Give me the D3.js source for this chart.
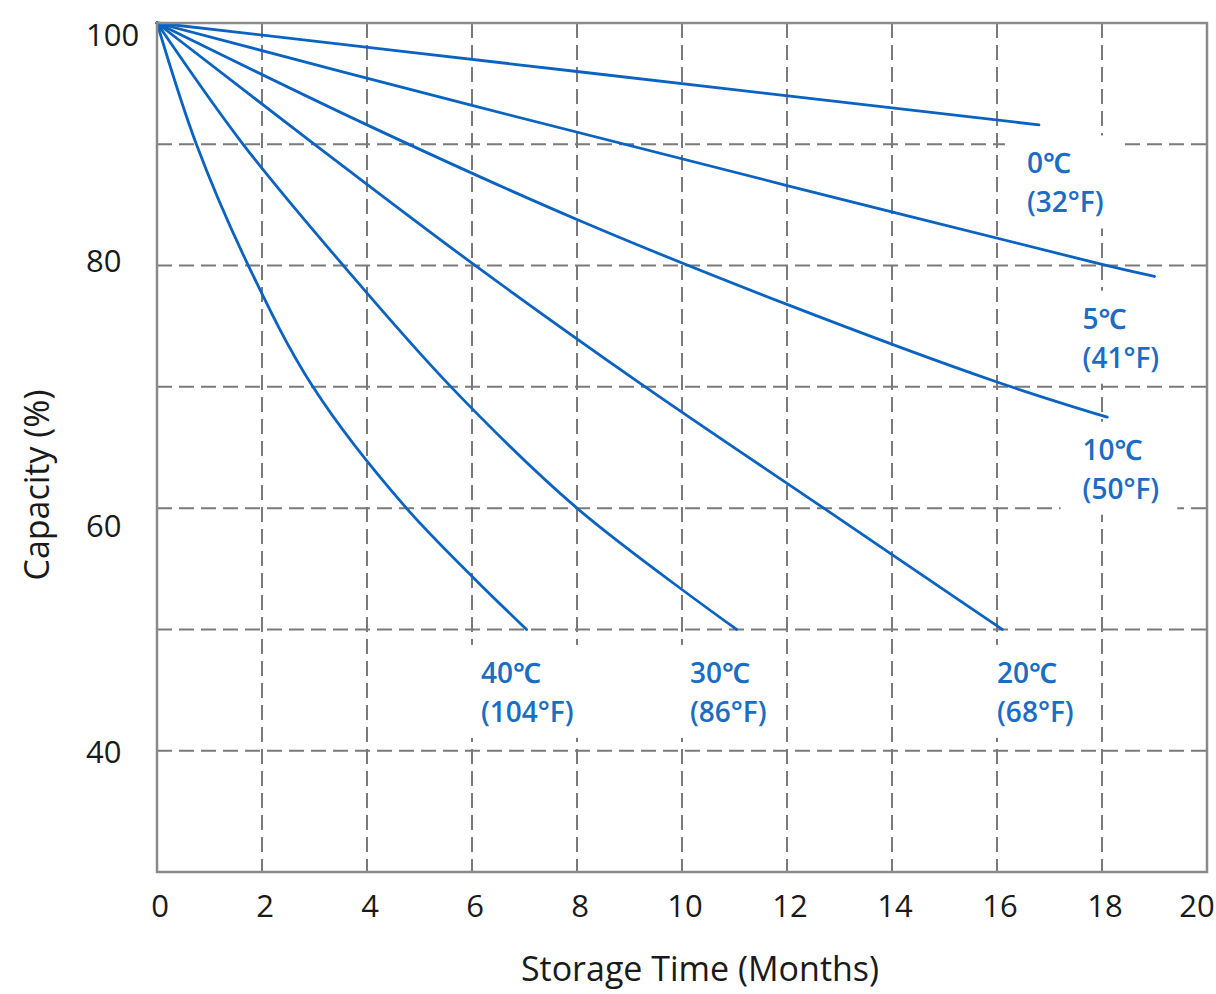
<!DOCTYPE html>
<html>
<head>
<meta charset="utf-8">
<script src="https://cdn.jsdelivr.net/npm/d3@7"></script>
<style>
  html, body { margin: 0; padding: 0; background: #fff; }
  svg { display: block; }
  .tick-label { font-family: "Open Sans", "Noto Sans", sans-serif; font-size: 31px; fill: #1a1a1a; }
  .axis-title { font-family: "Open Sans", "Noto Sans", sans-serif; font-size: 34px; fill: #1a1a1a; }
  .temp-label { font-family: "Open Sans", "Noto Sans", "DejaVu Sans", sans-serif; font-size: 28px; font-weight: 600; fill: #1a6cc4; }
</style>
</head>
<body>
<svg id="chart" width="1216" height="994"></svg>
<script>
// storage time (months) vs remaining capacity (%)
const curve0C  = [[0,100],[8,96.0],[16.8,91.6]];
const curve5C  = [[0,100],[6,93.2],[12,86.6],[18,80.1],[19,79.1]];
const curve10C = [[0,100],[4,91.6],[8,83.8],[12,76.8],[16,70.4],[18.1,67.5]];
const curve20C = [[0,100],[3,90.0],[6,80.2],[9.3,70],[12.7,60],[16.1,50]];
const curve30C = [[0,100],[1.64,90],[3.55,80],[5.6,70],[8,60],[11.04,50]];
const curve40C = [[0,100],[0.75,90],[1.74,80],[2.97,70],[4.75,60],[7.04,50]];

const labelsC = ["0℃", "5℃", "10℃", "20℃", "30℃", "40℃"];
const labelsF = ["(32°F)", "(41°F)", "(50°F)", "(68°F)", "(86°F)", "(104°F)"];

const xTicks = [0, 2, 4, 6, 8, 10, 12, 14, 16, 18, 20];
const yTicks = [40, 60, 80, 100];
const xGrid = [2, 4, 6, 8, 10, 12, 14, 16, 18];
const yGrid = [40, 50, 60, 70, 80, 90];

const curves = [curve0C, curve5C, curve10C, curve20C, curve30C, curve40C];

// label anchors in data units (months, %) : left edge / centre of first line
const labelAnchors = [[16.57, 88.5], [17.63, 75.7], [17.63, 64.9], [16.0, 46.5], [10.15, 46.5], [6.17, 46.5]];

const svg = d3.select("#chart");
const plot = { left: 157, right: 1207, top: 23, bottom: 872 };

const x = d3.scaleLinear().domain([0, 20]).range([plot.left, plot.right]);
const y = d3.scaleLinear().domain([30, 100]).range([plot.bottom, plot.top]);

// grid
const grid = svg.append("g").attr("stroke", "#7a7a7a").attr("stroke-width", 2).attr("stroke-dasharray", "15,7");
grid.selectAll(".gy").data(yGrid).join("line")
    .attr("x1", plot.left).attr("x2", plot.right)
    .attr("y1", d => y(d)).attr("y2", d => y(d));
grid.selectAll(".gx").data(xGrid).join("line")
    .attr("x1", d => x(d)).attr("x2", d => x(d))
    .attr("y1", plot.top).attr("y2", plot.bottom);

// labels (with white boxes that mask the grid)
const boxLayer = svg.append("g");
const lineLayer = svg.append("g");
const labelLayer = svg.append("g");

labelAnchors.forEach((a, i) => {
    const g = labelLayer.append("g");
    const lx = x(a[0]), ly = y(a[1]);
    g.append("text").attr("class", "temp-label").attr("x", lx).attr("y", ly)
        .attr("dominant-baseline", "central").text(labelsC[i]);
    g.append("text").attr("class", "temp-label").attr("x", lx).attr("y", ly + 39)
        .attr("dominant-baseline", "central").text(labelsF[i]);
    const bb = g.node().getBBox();
    boxLayer.append("rect")
        .attr("x", bb.x - 22).attr("y", bb.y - 8)
        .attr("width", bb.width + 40).attr("height", bb.height + 16)
        .attr("fill", "#fff");
});

// curves
const line = d3.line().x(d => x(d[0])).y(d => y(d[1])).curve(d3.curveCatmullRom.alpha(0.5));
lineLayer.selectAll("path").data(curves).join("path")
    .attr("d", line)
    .attr("fill", "none")
    .attr("stroke", "#0b63c1")
    .attr("stroke-width", 2.8)
    .attr("stroke-linecap", "round");

// frame
svg.append("rect")
    .attr("x", plot.left).attr("y", plot.top)
    .attr("width", plot.right - plot.left).attr("height", plot.bottom - plot.top)
    .attr("fill", "none").attr("stroke", "#8a8a8a").attr("stroke-width", 2.5);

// tick labels
const yNudge = { 100: 11, 80: -6, 60: 17, 40: 0 };
svg.append("g").selectAll("text").data(yTicks).join("text")
    .attr("class", "tick-label")
    .attr("x", 86)
    .attr("y", d => y(d) + yNudge[d])
    .attr("dominant-baseline", "central")
    .text(d => d);

svg.append("g").selectAll("text").data(xTicks).join("text")
    .attr("class", "tick-label")
    .attr("x", d => d === 20 ? x(d) - 10 : x(d) + 3)
    .attr("y", 905)
    .attr("text-anchor", "middle")
    .attr("dominant-baseline", "central")
    .text(d => d);

// axis titles
svg.append("text").attr("class", "axis-title")
    .attr("x", 700).attr("y", 968)
    .attr("text-anchor", "middle").attr("dominant-baseline", "central")
    .text("Storage Time (Months)");

svg.append("text").attr("class", "axis-title")
    .attr("transform", "translate(36,485) rotate(-90)")
    .attr("text-anchor", "middle").attr("dominant-baseline", "central")
    .text("Capacity (%)");
</script>
</body>
</html>
